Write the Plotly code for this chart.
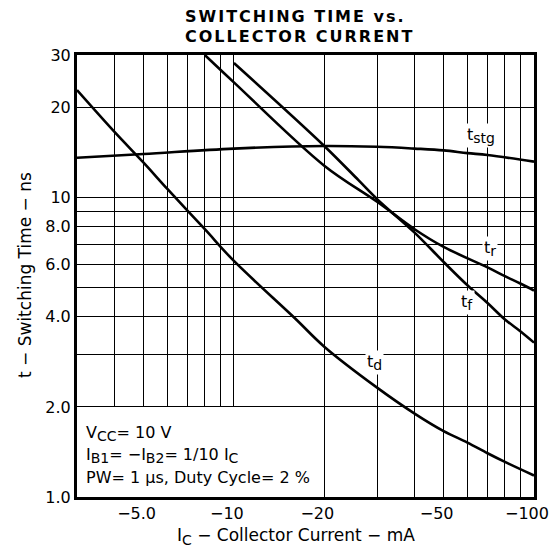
import plotly.graph_objects as go
import math

# ---- data ----
ic_td = [3, 4, 5, 6, 8, 10, 16, 20, 30, 40, 50, 60, 70, 80, 100]
t_d = [22.9, 16.6, 13.1, 10.7, 7.85, 6.15, 3.95, 3.18, 2.32, 1.9, 1.66, 1.52, 1.4, 1.31, 1.18]

ic_tstg = [3, 5, 10, 20, 30, 40, 50, 60, 70, 100]
t_stg = [13.6, 14.0, 14.6, 14.9, 14.8, 14.6, 14.4, 14.1, 13.9, 13.2]

ic_tr = [8.0, 10, 20, 30, 40, 50, 70, 80, 90, 100]
t_r = [30, 24.3, 12.8, 9.7, 7.85, 6.85, 5.85, 5.47, 5.17, 4.9]

ic_tf = [10, 20, 26, 30, 40, 50, 60, 70, 80, 90, 100]
t_f = [28.2, 14.9, 11.45, 9.9, 7.65, 6.1, 5.1, 4.45, 3.92, 3.58, 3.28]

x_grid = [3, 4, 5, 6, 7, 8, 9, 10, 20, 30, 40, 50, 60, 70, 80, 90, 100]
x_labels = {5: "\u22125.0", 10: "\u221210", 20: "\u221220", 50: "\u221250", 100: "\u2212100"}
y_grid = [1, 2, 3, 4, 5, 6, 7, 8, 9, 10, 20, 30]
y_labels = {1: "1.0", 2: "2.0", 4: "4.0", 6: "6.0", 8: "8.0", 10: "10", 20: "20", 30: "30"}

FONT = "DejaVu Sans"
LW = 2.6

fig = go.Figure()
for xs, ys in [(ic_td, t_d), (ic_tstg, t_stg), (ic_tr, t_r), (ic_tf, t_f)]:
    fig.add_trace(go.Scatter(x=xs, y=ys, mode="lines",
                             line=dict(color="black", width=LW, shape="spline", smoothing=1.0),
                             showlegend=False, hoverinfo="skip"))

# white box for the conditions text (hides grid, under traces)
fig.add_shape(type="rect", xref="x", yref="y", x0=3, x1=18, y0=1, y1=2,
              fillcolor="white", line=dict(width=0), layer="between")

axis_common = dict(type="log", showgrid=True, gridcolor="black", gridwidth=1.4,
                   showline=True, linecolor="black", linewidth=3, mirror=True,
                   ticks="", zeroline=False, automargin=False,
                   tickfont=dict(family=FONT, size=16, color="black"))

fig.update_xaxes(range=[math.log10(3), 2], tickvals=x_grid,
                 ticktext=[x_labels.get(v, "") for v in x_grid],
                 ticklabelshift=-7, **axis_common)
fig.update_yaxes(range=[0, math.log10(30)], tickvals=y_grid,
                 ticktext=[y_labels.get(v, "") for v in y_grid], **axis_common)

def ann(text, x, y, xref="paper", yref="paper", size=16, bg=None,
        xanchor="center", yanchor="middle", **kw):
    d = dict(text=text, x=x, y=y, xref=xref, yref=yref, showarrow=False,
             xanchor=xanchor, yanchor=yanchor,
             font=dict(family=FONT, size=size, color="black"))
    if bg:
        d.update(bgcolor=bg, borderpad=1)
    d.update(kw)
    fig.add_annotation(**d)

SUB = '<sub><span style="font-size:14px">%s</span></sub>'
WIDE = '<span style="letter-spacing:2px"><b>%s</b></span>'

# curve labels
ann("t" + SUB % "stg", math.log10(66.6), math.log10(16.1), "x", "y", bg="white")
ann("t" + SUB % "r", math.log10(71.5), math.log10(6.78), "x", "y", bg="white")
ann("t" + SUB % "f", math.log10(59.8), math.log10(4.45), "x", "y", bg="white")
ann("t" + SUB % "d", math.log10(29.5), math.log10(2.82), "x", "y", bg="white")

# conditions
ann("V" + SUB % "CC" + "= 10 V", 0.015, 0.143, xanchor="left")
ann("I" + SUB % "B1" + "= \u2212I" + SUB % "B2" + "= 1/10 I" + SUB % "C", 0.015, 0.093, xanchor="left")
ann("PW= 1 \u03bcs, Duty Cycle= 2 %", 0.015, 0.044, xanchor="left")

# title
ann(WIDE % "SWITCHING TIME vs.", 0.232, 1.0862, size=16, xanchor="left")
ann(WIDE % "COLLECTOR CURRENT", 0.232, 1.0420, size=16, xanchor="left")

# axis titles
ann("t \u2212 Switching Time \u2212 ns", -0.114, 0.502, size=17, textangle=-90)
ann("I" + SUB % "C" + " \u2212 Collector Current \u2212 mA", 0.479, -0.089, size=17)

# page body has an 8px default margin; size the figure so the page fits the window
# and the plot lands where the reference has it (x 77..534, y 55..497)
fig.update_layout(width=541, height=540, margin=dict(l=69, r=15, t=47, b=51),
                  paper_bgcolor="white", plot_bgcolor="white")

fig.write_html("out.html")
